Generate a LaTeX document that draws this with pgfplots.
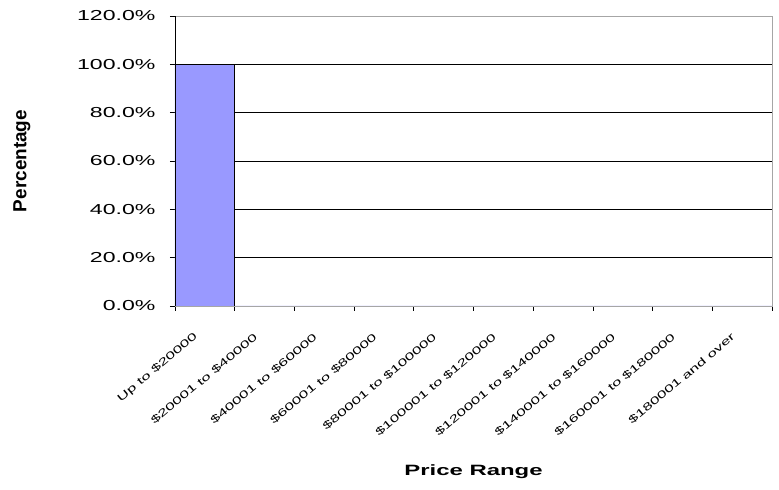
\documentclass[border=0pt]{standalone}
\usepackage{fontspec}
\setmainfont{Liberation Sans}[FakeStretch=1.6]
\newfontfamily\rotfont{Liberation Sans}
\usepackage{pgfplots}
\pgfplotsset{compat=1.18}
\definecolor{barblue}{RGB}{153,153,255}
\begin{document}
\begin{tikzpicture}[x=1bp,y=1bp]
\begin{axis}[
  at={(0,0)}, anchor=south west,
  scale only axis, width=597bp, height=290bp,
  xmin=0, xmax=10, ymin=0, ymax=120,
  axis line style={draw=gray!70, line width=0.8bp},
  ytick={0,20,...,120},
  yticklabels={0.0\%,20.0\%,40.0\%,60.0\%,80.0\%,100.0\%,120.0\%},
  ymajorgrids, grid style={black, line width=0.8bp},
  xtick={0.5,1.5,...,9.5},
  xticklabels={Up to \$20000, \$20001 to \$40000, \$40001 to \$60000, \$60001 to \$80000, \$80001 to \$100000, \$100001 to \$120000, \$120001 to \$140000, \$140001 to \$160000, \$160001 to \$180000, \$180001 and over},
  major x tick style={draw=none},
  minor xtick={0,1,...,10},
  minor tick length=5bp, major tick length=5bp,
  tick align=outside, xtick pos=left, ytick pos=left,
  tick style={black, line width=0.8bp},
  yticklabel style={font=\fontsize{14.5}{16}\selectfont, xshift=-11bp},
  xticklabel style={font=\fontsize{10.5}{12}\selectfont, rotate=40, anchor=east, yshift=-13bp, xshift=-19bp},
  xlabel={Price Range}, ylabel={Percentage},
  x label style={at={(axis description cs:0.5,0)}, anchor=center, yshift=-166bp, font=\bfseries\fontsize{15}{17}\selectfont},
  y label style={at={(axis description cs:0,0.5)}, anchor=center, yshift=153bp, font=\rotfont\bfseries\fontsize{19}{21}\selectfont},
]
\addplot[ybar, bar width=1, fill=barblue, draw=black, line width=0.8bp] coordinates {
  (0.5,100) (1.5,0) (2.5,0) (3.5,0) (4.5,0) (5.5,0) (6.5,0) (7.5,0) (8.5,0) (9.5,0)
};
\draw[black, line width=0.8bp] (rel axis cs:0,0) -- (rel axis cs:0,1);
\draw[black, line width=0.8bp] (rel axis cs:0,0) -- (rel axis cs:1,0);
\end{axis}
\path[use as bounding box] (-175,-184) rectangle (604,306);
\end{tikzpicture}
\end{document}
